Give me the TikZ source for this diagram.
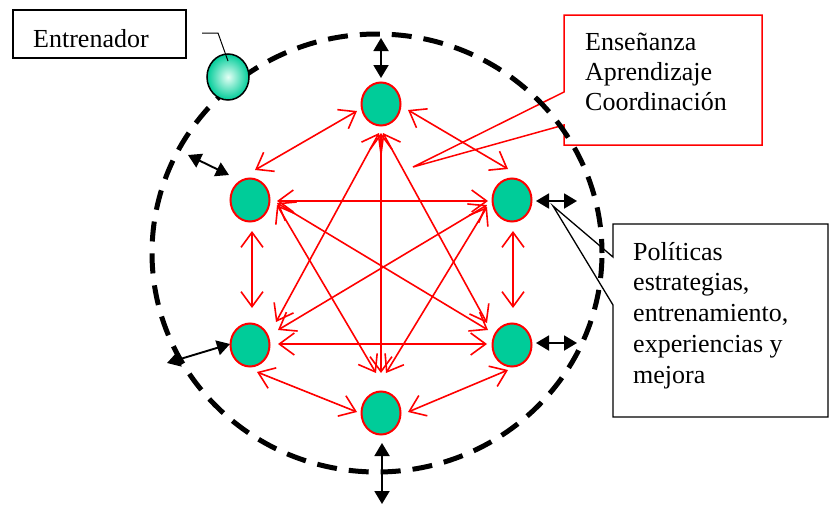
\documentclass[tikz,border=0pt]{standalone}
\usepackage{fontspec}
\setmainfont{Liberation Serif}
\usetikzlibrary{arrows.meta,shapes.geometric,calc}
\definecolor{teamgreen}{RGB}{0,204,153}
\definecolor{coachlight}{RGB}{228,255,245}
\begin{document}
\begin{tikzpicture}[x=1pt,y=-1pt,
  member/.style={ellipse, draw=red, line width=2pt, fill=teamgreen,
    minimum width=39pt, minimum height=43pt, inner sep=0pt},
  link/.style={red, line width=1.6pt,
    {Straight Barb[length=15pt,width=22pt]}-{Straight Barb[length=15pt,width=22pt]}},
  ext/.style={black, line width=1.9pt,
    {Triangle[length=13pt,width=15pt]}-{Triangle[length=13pt,width=15pt]}},
  boundary/.style={line width=5pt, dash pattern=on 20pt off 12pt},
  txt/.style={font=\fontsize{26}{30}\selectfont, inner sep=0pt, anchor=base west},
]
\useasboundingbox (0,0) rectangle (835,506);

% callout boxes
\draw[line width=1.3pt] (13,10) rectangle (186,58);
\node[txt] (coachlabel) at (33,47) {Entrenador};

\draw[red, line width=1.5pt] (564,15) -- (762,15) -- (762,145) -- (564,145)
  -- (564,125) -- (413,167) -- (564,92) -- cycle;
\node[txt] (teach) at (585,50)
  {\begin{tabular}[t]{@{}l@{}}Enseñanza\\Aprendizaje\\Coordinación\end{tabular}};

\draw[line width=1.3pt] (613,224) -- (828,224) -- (828,417) -- (613,417)
  -- (613,305) -- (553,206) -- (613,257) -- cycle;
\node[txt, font=\fontsize{26}{30.8}\selectfont] (policy) at (633,260)
  {\begin{tabular}[t]{@{}l@{}}Políticas\\estrategias,\\entrenamiento,\\experiencias y\\mejora\end{tabular}};

% team boundary
\draw[boundary, dash phase=6pt] (377,253) ellipse [x radius=225pt, y radius=219pt];

% team members
\node[member] (t)  at (381,104) {};
\node[member] (ul) at (250,200) {};
\node[member] (ur) at (512,200) {};
\node[member] (ll) at (250,345) {};
\node[member] (lr) at (512,345) {};
\node[member] (b)  at (381,413) {};

% links between every pair of members
\draw[link] ($(t)+(-24,7)$) -- ($(ul)+(5,-30)$);
\draw[link] ($(t)+(27,6)$) -- ($(ur)+(-4,-31)$);
\draw[link] ($(t)+(0,29)$) -- ($(b)+(0,-40)$);
\draw[link] ($(t)+(-2,29)$) -- ($(ll)+(26,-23)$);
\draw[link] ($(t)+(2,29)$) -- ($(lr)+(-25,-22)$);
\draw[link] ($(ul)+(27,1)$) -- ($(ur)+(-24,1)$);
\draw[link] ($(ul)+(2,31)$) -- ($(ll)+(2,-37)$);
\draw[link] ($(ur)+(1,31)$) -- ($(lr)+(1,-37)$);
\draw[link] ($(ll)+(28,-1)$) -- ($(lr)+(-25,-1)$);
\draw[link] ($(ul)+(27,3)$) -- ($(lr)+(-24,-15)$);
\draw[link] ($(ur)+(-25,5)$) -- ($(ll)+(28,-15)$);
\draw[link] ($(ul)+(27,5)$) -- ($(b)+(-5,-40)$);
\draw[link] ($(ur)+(-25,7)$) -- ($(b)+(5,-40)$);
\draw[link] ($(ll)+(7,27)$) -- ($(b)+(-24,-1)$);
\draw[link] ($(lr)+(-4,25)$) -- ($(b)+(27,-1)$);

% exchanges with the outside
\coordinate (tOut)  at (381,38);
\coordinate (ulOut) at (188,155);
\coordinate (urOut) at (577,201);
\coordinate (lrOut) at (577,343);
\coordinate (llOut) at (167,363);
\coordinate (bOut)  at (382,504);
\draw[ext] (tOut) -- ($(t)+(0,-26)$);
\draw[ext] (ulOut) -- ($(ul)+(-21,-25)$);
\draw[ext] ($(ur)+(24,1)$) -- (urOut);
\draw[ext] ($(lr)+(24,-2)$) -- (lrOut);
\draw[ext] (llOut) -- ($(ll)+(-20,-1)$);
\draw[ext] ($(b)+(1,30)$) -- (bOut);

% coach
\node[ellipse, draw, line width=1.5pt, minimum width=42pt, minimum height=46pt,
  inner sep=0pt, inner color=coachlight, outer color=teamgreen] (coach) at (228,77) {};
\draw[line width=1pt] (202,33) -- (218,33) -- ($(coach)+(0,-16)$);
\end{tikzpicture}
\end{document}
